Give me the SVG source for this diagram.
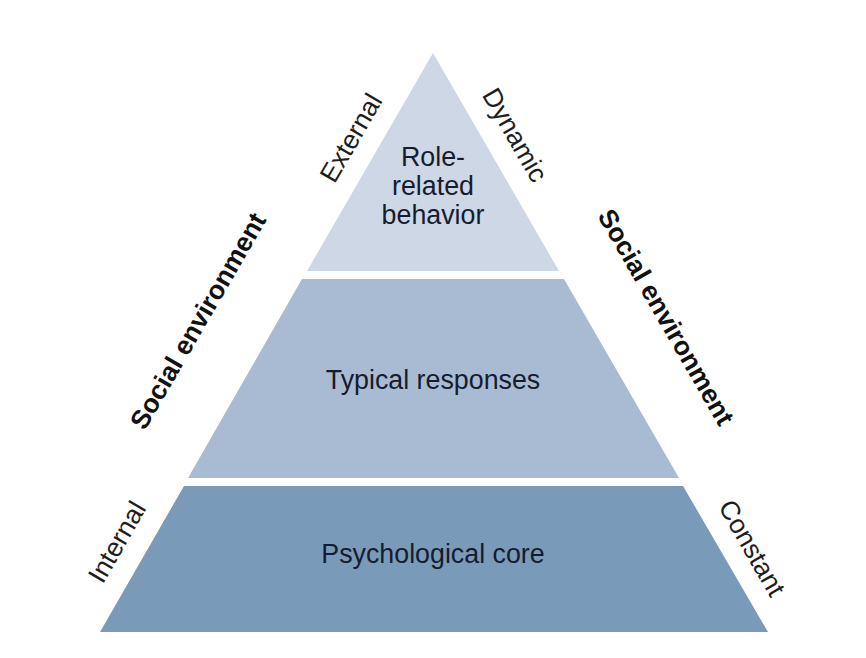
<svg xmlns="http://www.w3.org/2000/svg" width="866" height="658" viewBox="0 0 866 658">
<style>
.lbl{font-family:"Liberation Sans",Arial,sans-serif;font-size:26.8px;fill:#161c2e;text-anchor:middle}
.side{font-family:"Liberation Sans",Arial,sans-serif;font-size:26.5px;fill:#1e1e1e;text-anchor:middle}
.bold{font-weight:bold;fill:#111}
</style>
<rect width="866" height="658" fill="#ffffff"/>
<g id="layer-top">
<polygon points="433,53 559,271 307,271" fill="#cdd7e6"/>
<text class="lbl" x="433" y="166">Role-</text>
<text class="lbl" x="433" y="195">related</text>
<text class="lbl" x="433" y="224">behavior</text>
</g>
<g id="layer-middle">
<polygon points="302,279 564,279 679,478 188,478" fill="#a9bbd3"/>
<text class="lbl" x="433" y="389">Typical responses</text>
</g>
<g id="layer-bottom">
<polygon points="184,486 683,486 768,632 100,632" fill="#7a9aba"/>
<text class="lbl" x="433" y="563">Psychological core</text>
</g>
<g id="label-external"><text class="side" transform="translate(351,138) rotate(-60)" y="9">External</text></g>
<g id="label-dynamic"><text class="side" transform="translate(515,135) rotate(60)" y="9">Dynamic</text></g>
<g id="label-internal"><text class="side" transform="translate(117,542) rotate(-60)" y="9">Internal</text></g>
<g id="label-constant"><text class="side" transform="translate(752,548) rotate(60)" y="9">Constant</text></g>
<g id="label-social-left"><text class="side bold" transform="translate(198,321) rotate(-60)" y="9">Social environment</text></g>
<g id="label-social-right"><text class="side bold" transform="translate(666,317) rotate(60)" y="9">Social environment</text></g>
</svg>
